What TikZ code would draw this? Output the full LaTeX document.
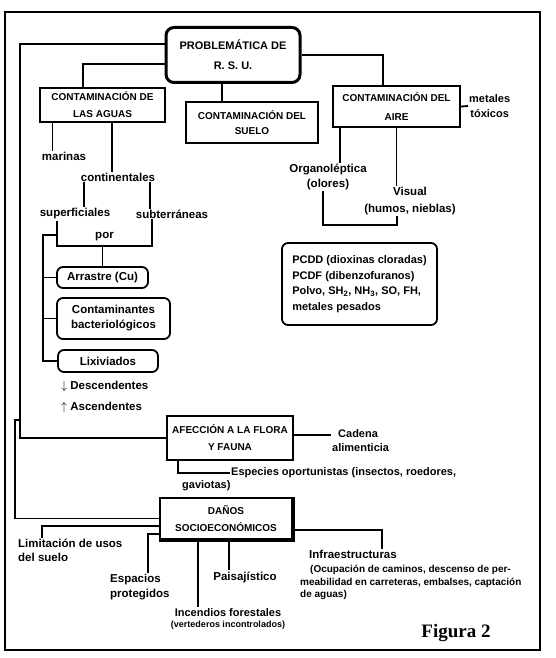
\documentclass[tikz,border=0pt]{standalone}
\usepackage{fontspec}
\setmainfont{Liberation Sans}
\newfontfamily\figfont{Liberation Serif}
\usetikzlibrary{calc}

\begin{document}
\begin{tikzpicture}[
    x=1pt, y=-1pt,
    font=\bfseries\fontsize{11.5}{14}\selectfont,
    link/.style={line width=1.8pt},
    sqbox/.style={
        draw,
        line width=1.8pt,
        inner sep=2pt,
        align=center,
        font=\bfseries\fontsize{10}{17}\selectfont
    },
    rbox/.style={
        sqbox,
        rounded corners=6pt,
        font=\bfseries\fontsize{11.5}{15}\selectfont
    },
    mainbox/.style={
        sqbox,
        line width=3pt,
        rounded corners=8pt,
        font=\bfseries\fontsize{11}{20}\selectfont
    },
    lbl/.style={inner sep=1pt, align=center}
]

\useasboundingbox (0,0) rectangle (556,658);
\draw[line width=2pt] (5,12) rectangle (540,650);

% Top
\node[mainbox, minimum width=134pt, minimum height=55pt] (prob) at (233,55) {PROBLEMÁTICA DE\\R. S. U.};

% Contamination boxes
\node[sqbox, minimum width=125pt, minimum height=34pt] (aguas) at (102.5,105) {CONTAMINACIÓN DE\\LAS AGUAS};
\node[sqbox, minimum width=132pt, minimum height=41pt, font=\bfseries\fontsize{10}{15}\selectfont] (suelo) at (252,122.5) {CONTAMINACIÓN DEL\\SUELO};
\node[sqbox, minimum width=127pt, minimum height=41pt, font=\bfseries\fontsize{10}{19}\selectfont] (aire) at (396.5,106.5) {CONTAMINACIÓN DEL\\AIRE};
\node[lbl, anchor=west, font=\bfseries\fontsize{11}{15}\selectfont] (metales) at (468,106) {metales\\tóxicos};

% Water branch
\node[lbl] (marinas) at (64,156) {marinas};
\node[lbl] (conti) at (118,177) {continentales};
\node[lbl] (sup) at (75,214) {superficiales};
\node[lbl] (sub) at (172,214) {subterráneas};
\node[lbl, minimum width=95pt, minimum height=18pt] (por) at (104.5,237) {por};
\node[rbox, minimum width=91pt, minimum height=21pt] (arr) at (102.5,277.5) {Arrastre (Cu)};
\node[rbox, minimum width=113pt, minimum height=41pt] (conta) at (113.5,318.5) {Contaminantes\\bacteriológicos};
\node[rbox, minimum width=100pt, minimum height=22pt] (lixi) at (108,361) {Lixiviados};
\node[lbl, anchor=west] (desc) at (60,386) {$\downarrow$ Descendentes};
\node[lbl, anchor=west] (asc) at (60,407) {$\uparrow$ Ascendentes};

% Air branch
\node[lbl, font=\bfseries\fontsize{11.5}{15}\selectfont] (organo) at (328,177) {Organoléptica\\(olores)};
\node[lbl, font=\bfseries\fontsize{11.5}{17}\selectfont] (visual) at (410,201) {Visual\\(humos, nieblas)};
\node[rbox, minimum width=155pt, minimum height=82pt, align=left, font=\bfseries\fontsize{11}{15.5}\selectfont] (pcdd) at (359.5,284) {PCDD (dioxinas cloradas)\\PCDF (dibenzofuranos)\\Polvo, SH\textsubscript{2}, NH\textsubscript{3}, SO, FH,\\metales pesados};

% Flora and fauna
\node[sqbox, minimum width=126pt, minimum height=44pt] (afec) at (230,438) {AFECCIÓN A LA FLORA\\Y FAUNA};
\node[lbl, anchor=west, align=left, font=\bfseries\fontsize{11}{14}\selectfont] (cadena) at (331,441) {\hspace*{6pt}Cadena\\alimenticia};
\node[lbl, anchor=west, font=\bfseries\fontsize{11}{14}\selectfont] (especies) at (230,473) {Especies oportunistas (insectos, roedores,};
\node[lbl, anchor=west, font=\bfseries\fontsize{11}{14}\selectfont] (gaviotas) at (181,486) {gaviotas)};

% Socio-economic damage
\node[sqbox, minimum width=132pt, minimum height=41pt] (danos) at (226,518.5) {DAÑOS\\SOCIOECONÓMICOS};
\node[lbl, anchor=north west, align=left, font=\bfseries\fontsize{11.5}{13.5}\selectfont] (limit) at (17,538) {Limitación de usos\\del suelo};
\node[lbl, anchor=north west, align=left, font=\bfseries\fontsize{11.5}{15}\selectfont] (espacios) at (109,573) {Espacios\\protegidos};
\node[lbl] (paisaj) at (245,577) {Paisajístico};
\node[lbl, font=\bfseries\fontsize{11}{11}\selectfont] (incend) at (228,619) {Incendios forestales\\{\fontsize{9}{9}\selectfont (vertederos incontrolados)}};
\node[lbl] (infra) at (353,554) {Infraestructuras};
\node[lbl, anchor=north west, align=left, font=\bfseries\fontsize{10}{12.5}\selectfont] (ocupa) at (299,564) {\hspace*{10pt}(Ocupación de caminos, descenso de per-\\meabilidad en carreteras, embalses, captación\\de aguas)};

\node[lbl, font=\figfont\bfseries\fontsize{19}{19}\selectfont] (fig) at (456,633) {Figura 2};

% Connectors from the top box
\draw[link] ([yshift=11pt]prob.west) -| ([xshift=-146pt]afec.west) -- (afec.west);
\coordinate (split) at (21,420);
\draw[link] (split) -- ++(-6,0) |- (danos.west);
\draw[link] ([yshift=-9pt]prob.west) -| ([xshift=-19.5pt]aguas.north);
\draw[link] ([xshift=-11pt]prob.south) -- ([xshift=-11pt]prob.south |- suelo.north);
\draw[link] (prob.east) -| ([xshift=-13.5pt]aire.north);
\draw[link] (aire.east) -- (metales.west);

% Water
\draw[link] ([xshift=-50pt]aguas.south) -- ([xshift=-50pt]aguas.south |- marinas.north);
\draw[link] ([xshift=9.5pt]aguas.south) -- ([xshift=9.5pt]aguas.south |- conti.north);
\draw[link] ([xshift=9pt]sup.north |- conti.south) -- ([xshift=9pt]sup.north);
\draw[link] ([xshift=-22pt]sub.north |- conti.south) -- ([xshift=-22pt]sub.north);
\draw[link] (por.south west |- sup.south) -- (por.south west) -- (por.south east) -- (por.south east |- sub.south);
\draw[link] (arr.north |- por.south) -- (arr.north);
\draw[link] (lixi.west) -| ([xshift=-14pt,yshift=11pt]por.south west) -- ([yshift=11pt]por.south west);
\draw[link] ([xshift=-14pt]arr.west) -- (arr.west);
\draw[link] ([xshift=-14pt]conta.west) -- (conta.west);

% Air
\draw[link] ([xshift=-56.5pt]aire.south) -- ([xshift=-56.5pt]aire.south |- organo.north);
\draw[link] (aire.south) -- (aire.south |- visual.north);
\draw[link] ([xshift=-5pt]organo.south) -- ++(0,34) -| ([xshift=-13pt]visual.south);

% Flora and fauna
\draw[link] ([yshift=3pt]afec.east) -- ([yshift=3pt]afec.east -| cadena.west);
\draw[link] ([xshift=-52pt]afec.south) |- (especies.west);

% Damage
\draw[line width=3.5pt] (danos.north east) -- (danos.south east) -- (danos.south west);
\draw[link] ([yshift=-7.5pt]danos.west) -| ([xshift=25pt]limit.north west);
\draw[link] ([yshift=-15.5pt]danos.west) -| ([xshift=39pt]espacios.north west);
\draw[link] ([xshift=-28pt]danos.south) -- ([xshift=-28pt]danos.south |- incend.north);
\draw[link] ([xshift=3pt]danos.south) -- ([xshift=3pt]danos.south |- paisaj.north);
\draw[link] ([yshift=-11.5pt]danos.east) -| ([xshift=29pt]infra.north);

\end{tikzpicture}
\end{document}
